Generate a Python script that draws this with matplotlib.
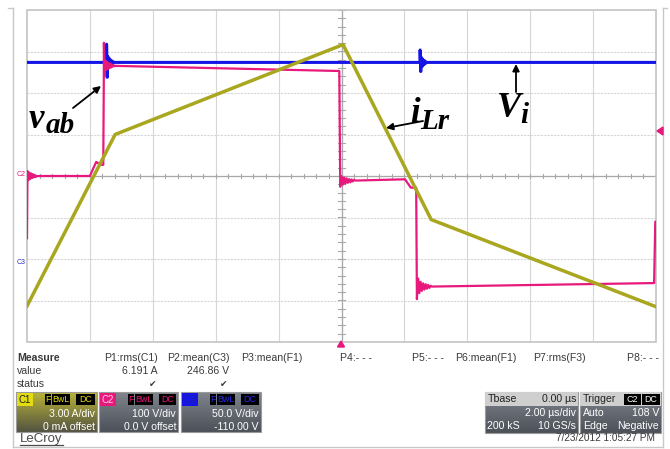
import numpy as np
import matplotlib
matplotlib.use("Agg")
import matplotlib.pyplot as plt
from matplotlib.patches import Rectangle, Polygon

plt.rcParams['font.family'] = ['Liberation Sans', 'DejaVu Sans']

# ---------------- waveform data ----------------
# time base: 2 us/div, 10 divisions, trigger at the centre
t_span = (-10.0, 10.0)

# C1: resonant inductor current iLr (A), 3 A/div, 0 offset
iLr_t = [-10.0, -7.2, 0.05, 2.85, 10.0]
iLr_A = [-9.4, 3.0, 9.5, -3.15, -9.45]

# C2: bridge voltage vab (V), 100 V/div, 0 offset
vab_t = [-10.0, -9.985, -8.0, -7.8, -7.66, -7.575, -7.555, -0.11,
         -0.07, -0.04, 1.86, 2.02, 2.20, 2.375, 2.395, 9.87, 9.94, 9.975, 10.0]
vab_V = [-150, 0, 0, 34, 27, 27, 266, 253,
         253, -12, -8, -8, -28, -28, -267, -258, -258, -110, -110]

# ringing after each switching edge: (start time, step, deviations in V)
vab_ring = [(-9.985, 0.03, [12, -10, 8, -7, 6, -5, 4, -3, 2, -2]),
            (-7.555, 0.025, [55, -25, 12, -10, 9, -8, 7, -6, 5, -4, 3, -2, 2, -1]),
            (-0.04, 0.04, [-14, 11, -9, 8, -7, 6, -5, 4, -4, 3, -2, 2]),
            (2.395, 0.04, [-33, 20, -15, 12, -10, 8, -7, 6, -5, 4, -3, 2])]

# C3: input voltage Vi (V), 50 V/div, -110 V offset
Vi_mean = 246.86
Vi_ring = [(-7.47, 0.02, [22, -18, 7, -6, 5, -4, 3, -2.5, 2, -1.5, 1]),
           (2.50, 0.02, [15, -11, 6, -5, 4, -3, 2.5, -2, 1.5, -1])]

# channel settings (volts-or-amps per division, offset)
ch1_scale, ch1_offset = 3.0, 0.0
ch2_scale, ch2_offset = 100.0, 0.0
ch3_scale, ch3_offset = 50.0, -110.0

# measurement panel text
measure_heads = ["P1:rms(C1)", "P2:mean(C3)", "P3:mean(F1)", "P4:- - -",
                 "P5:- - -", "P6:mean(F1)", "P7:rms(F3)", "P8:- - -"]
measure_vals = ["6.191 A", "246.86 V"]


def build(bt, bv, rings):
    t = np.linspace(t_span[0], t_span[1], 8001)
    v = np.interp(t, bt, bv)
    for t0, step, devs in rings:
        rt = t0 + step * np.arange(len(devs) + 1)
        rv = np.append(devs, 0.0)
        m = (t >= t0) & (t <= rt[-1])
        v[m] += np.interp(t[m], rt, rv)
    return t, v


# ---------------- figure ----------------
W, H = 670, 449
fig = plt.figure(figsize=(W / 100, H / 100), dpi=100)
fig.patch.set_facecolor('white')

bg = fig.add_axes([0, 0, 1, 1], zorder=0)
bg.set_xlim(0, W)
bg.set_ylim(H, 0)
bg.axis('off')

# outer frame
frame_c = '#c8c8c8'
bg.plot([13, 13], [8, 447], color=frame_c, lw=1)
bg.plot([663, 663], [8, 447], color=frame_c, lw=1)
bg.plot([13, 663], [447, 447], color=frame_c, lw=1)
bg.plot([8, 13], [8, 8], color=frame_c, lw=1)
bg.plot([663, 667], [8, 8], color=frame_c, lw=1)

# scope screen
L, R, T, B = 27, 656, 10, 342
ax = fig.add_axes([L / W, 1 - B / H, (R - L) / W, (B - T) / H], zorder=1)
ax.set_xlim(*t_span)
ax.set_ylim(-4, 4)
ax.axis('off')
ax.patch.set_alpha(0)

grid_c = '#d6d6d6'
for gx in np.arange(-8, 9, 2):
    ax.plot([gx, gx], [-4, 4], color=grid_c, lw=0.8, zorder=1)
for gy in np.arange(-3, 4, 1):
    ax.plot([-10, 10], [gy, gy], color=grid_c, lw=0.8, ls=(0, (2, 1)), zorder=1)
ax.plot([0, 0], [-4, 4], color='#a8a8a8', lw=0.9, zorder=1)
ax.plot([-10, 10], [0, 0], color='#a8a8a8', lw=0.9, zorder=1)
for mx in np.arange(-10, 10.01, 0.4):
    ax.plot([mx, mx], [-0.06, 0.06], color='#a8a8a8', lw=0.8, zorder=1)
for my in np.arange(-4, 4.01, 0.2):
    ax.plot([-0.1, 0.1], [my, my], color='#a8a8a8', lw=0.8, zorder=1)
ax.add_patch(Rectangle((-10, -4), 20, 8, fill=False, ec='#c4c4c4', lw=1.2, zorder=1,
                       clip_on=False))

# traces, converted to divisions through each channel's scale and offset
t3, v3 = build([t_span[0], t_span[1]], [Vi_mean, Vi_mean], Vi_ring)
ax.plot(t3, (v3 + ch3_offset) / ch3_scale, color='#1414e6', lw=2.2, zorder=3)

t2, v2 = build(vab_t, vab_V, vab_ring)
ax.plot(t2, (v2 + ch2_offset) / ch2_scale, color='#e8197c', lw=1.6, zorder=4)

t1, i1 = build(iLr_t, iLr_A, [])
ax.plot(t1, (i1 + ch1_offset) / ch1_scale, color='#a9a61f', lw=2.5, zorder=5)

# ---------------- overlay: markers, labels, panel ----------------
top = fig.add_axes([0, 0, 1, 1], zorder=2)
top.set_xlim(0, W)
top.set_ylim(H, 0)
top.axis('off')
top.patch.set_alpha(0)

pink = '#e8197c'
top.add_patch(Polygon([[657, 131], [663, 127], [663, 135]], color=pink))
top.add_patch(Polygon([[341, 341], [337.5, 347], [344.5, 347]], color=pink))
top.text(17, 175, "C2", color=pink, fontsize=5, ha='left', va='center')
top.text(17, 263, "C3", color='#3030c0', fontsize=5, ha='left', va='center')

# annotations: symbol plus subscript in bold italic serif
arrow = dict(arrowstyle='-|>', color='black', lw=1.3, mutation_scale=10,
             shrinkA=0, shrinkB=0)
sym = dict(family='Liberation Serif', style='italic', weight='bold', va='baseline',
           ha='left', color='black')


def symbol(x, y, main, sub, dx, dy, size=25, sub_size=21):
    top.text(x, y, main, fontsize=size, **sym)
    top.text(x + dx, y + dy, sub, fontsize=sub_size, **sym)


top.annotate("", xy=(101, 86), xytext=(73, 108), arrowprops=arrow)
symbol(29, 128, "v", "ab", 17, 5)
top.annotate("", xy=(386, 128), xytext=(423, 121), arrowprops=arrow)
symbol(410, 122, "i", "Lr", 10, 7)
top.annotate("", xy=(516, 64), xytext=(516, 92), arrowprops=arrow)
symbol(497, 117, "V", "i", 23, 6, size=26)

# measurement table
txt_c = '#3a3a3a'
fs = 7.6
top.text(17, 358, "Measure", fontsize=fs, fontweight='bold', color=txt_c, va='center')
top.text(17, 371, "value", fontsize=fs, color=txt_c, va='center')
top.text(17, 384, "status", fontsize=fs, color=txt_c, va='center')
head_x = [104, 167, 241, 340, 412, 455, 533, 627]
for hx, h in zip(head_x, measure_heads):
    top.text(hx, 358, h, fontsize=fs, color=txt_c, va='center', ha='left')
for vx, v in zip([158, 229], measure_vals):
    top.text(vx, 371, v, fontsize=fs, color=txt_c, va='center', ha='right')
    top.text(vx - 5, 384, "\u2714", fontsize=6.5, color=txt_c, va='center', ha='center',
             family='DejaVu Sans')


def gradient_box(x0, x1, y0, y1, ctop, cbot):
    n = 32
    col = np.linspace(ctop, cbot, n)[:, None, :]
    top.imshow(col, extent=(x0, x1, y1, y0), aspect='auto', zorder=2,
               interpolation='bilinear')
    top.add_patch(Rectangle((x0, y0), x1 - x0, y1 - y0, fill=False, ec='#9a9a9a',
                            lw=0.8, zorder=3))


def badge(x0, x1, y0, y1, fc, text, tc, size=6.4):
    top.add_patch(Rectangle((x0, y0), x1 - x0, y1 - y0, fc=fc, ec='none', zorder=3))
    top.text((x0 + x1) / 2, (y0 + y1) / 2 + 0.5, text, color=tc, fontsize=size,
             ha='center', va='center', zorder=4)


gray_top = (0.50, 0.52, 0.55)
gray_bot = (0.30, 0.32, 0.35)

# channel boxes: (left, right, header colour, header text colour, flag colour, lines)
channels = [
    (16, 97, '#e2dc10', '#202020', '#e2dc10', ["3.00 A/div", "0 mA offset"]),
    (99, 178, pink, '#ffd0e4', pink, ["100 V/div", "0.0 V offset"]),
    (181, 261, '#1414e6', '#2020a0', '#2a2ae6', ["50.0 V/div", "-110.00 V"]),
]
for i, (x0, x1, hc, htc, fcol, lines) in enumerate(channels):
    if i == 0:
        gradient_box(x0, x1, 392, 432, (0.72, 0.70, 0.22), (0.33, 0.33, 0.26))
    else:
        gradient_box(x0, x1, 392, 432, gray_top, gray_bot)
    badge(x0 + 1, x0 + 17, 393, 406, hc, "C%d" % (i + 1), htc, 7)
    badge(x0 + 29, x0 + 35, 394, 405, 'black', "F", fcol)
    badge(x0 + 36, x0 + 54, 394, 405, 'black', "BwL", fcol)
    badge(x0 + 60, x1 - 2, 394, 405, 'black', "DC", fcol)
    top.text(x1 - 2, 414, lines[0], color='white', fontsize=fs, ha='right', va='center',
             zorder=4)
    top.text(x1 - 2, 427, lines[1], color='white', fontsize=fs, ha='right', va='center',
             zorder=4)

# timebase box
gradient_box(485, 578, 392, 433, gray_top, gray_bot)
top.add_patch(Rectangle((485, 392), 93, 14, fc='#cfcfcf', ec='none', zorder=3))
top.text(488, 399, "Tbase", fontsize=fs, color='#222222', va='center', zorder=4)
top.text(576, 399, "0.00 \u00b5s", fontsize=fs, color='#222222', va='center', ha='right',
         zorder=4)
top.text(576, 413, "2.00 \u00b5s/div", fontsize=fs, color='white', va='center', ha='right',
         zorder=4)
top.text(487, 426, "200 kS", fontsize=fs, color='white', va='center', zorder=4)
top.text(576, 426, "10 GS/s", fontsize=fs, color='white', va='center', ha='right', zorder=4)

# trigger box
gradient_box(580, 661, 392, 433, gray_top, gray_bot)
top.add_patch(Rectangle((580, 392), 81, 14, fc='#cfcfcf', ec='none', zorder=3))
top.text(583, 399, "Trigger", fontsize=fs, color='#222222', va='center', zorder=4)
badge(624, 641, 393.5, 405, 'black', "C2", 'white')
badge(642, 660, 393.5, 405, 'black', "DC", 'white')
top.text(583, 413, "Auto", fontsize=fs, color='white', va='center', zorder=4)
top.text(659, 413, "108 V", fontsize=fs, color='white', va='center', ha='right', zorder=4)
top.text(583, 426, "Edge", fontsize=fs, color='white', va='center', zorder=4)
top.text(659, 426, "Negative", fontsize=fs, color='white', va='center', ha='right', zorder=4)

# footer
top.text(20, 439, "LeCroy", fontsize=9.5, color='#4a4a4a', va='center', ha='left')
top.plot([20, 63], [445, 445], color='#4a4a4a', lw=0.9)
top.text(655, 438, "7/23/2012 1:05:27 PM", fontsize=7.2, color='#3a3a3a', va='center',
         ha='right')

fig.savefig("out.png", dpi=100, facecolor='white')
